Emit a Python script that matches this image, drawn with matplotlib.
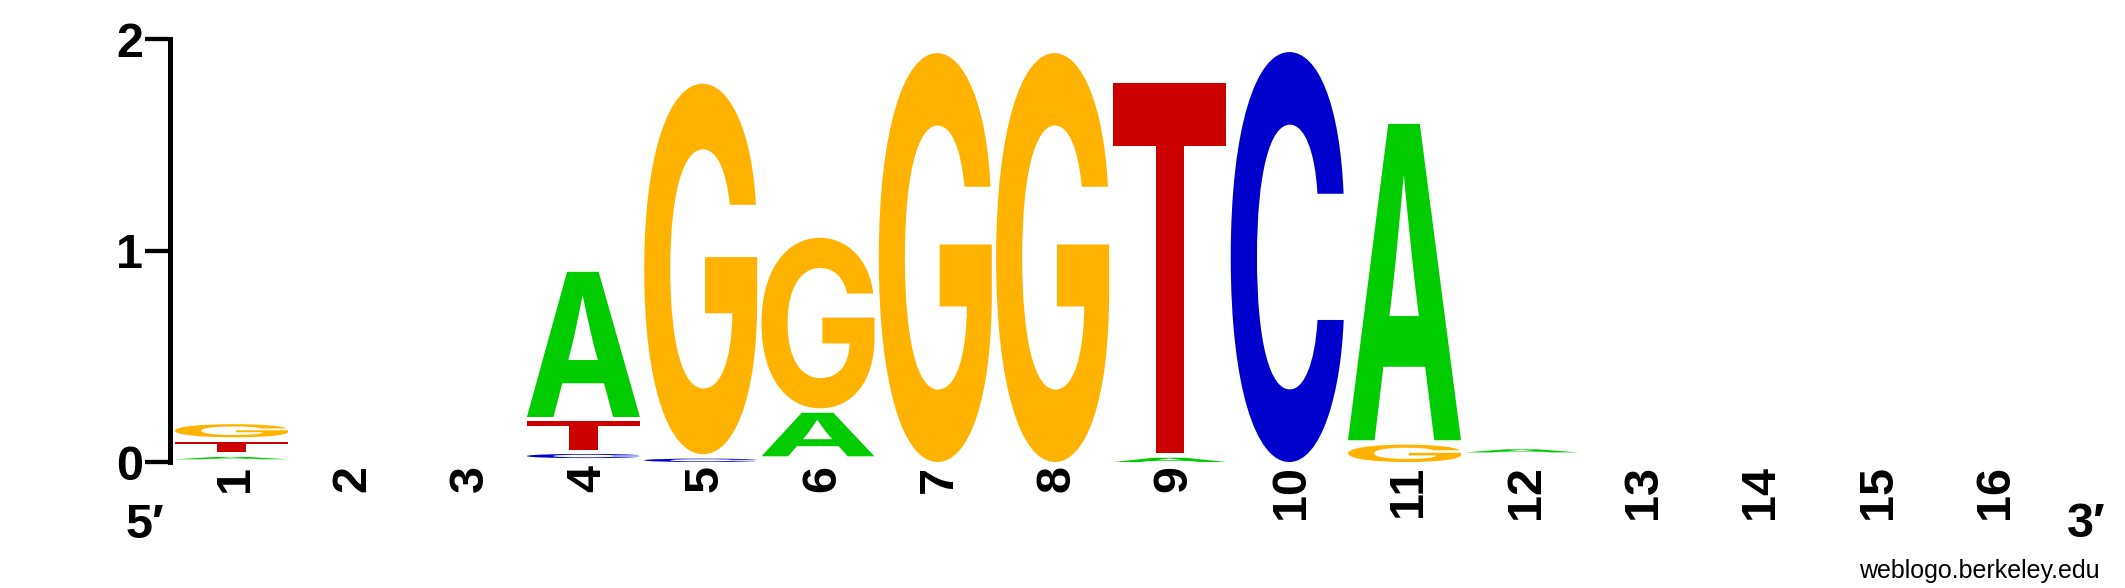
import matplotlib
matplotlib.use('Agg')
import matplotlib.pyplot as plt
from matplotlib.textpath import TextPath
from matplotlib.patches import PathPatch
from matplotlib.font_manager import FontProperties
from matplotlib.transforms import Affine2D

# ---- data (bits per letter at each position) ----
positions = list(range(1, 17))
letters = ['A', 'C', 'G', 'T']
A_vals = [0.016, 0, 0, 0.708, 0, 0.227, 0, 0, 0.020, 0, 1.518, 0.021, 0, 0, 0, 0]
C_vals = [0.008, 0, 0, 0.028, 0.016, 0.006, 0, 0, 0, 1.940, 0, 0.013, 0, 0, 0, 0]
G_vals = [0.083, 0, 0, 0.010, 1.774, 0.828, 1.935, 1.935, 0, 0, 0.082, 0.013, 0, 0, 0, 0]
T_vals = [0.072, 0, 0, 0.154, 0, 0, 0, 0, 1.775, 0, 0, 0.013, 0, 0, 0, 0]
y_ticks = [0, 1, 2]
colors = {'A': '#00CC00', 'C': '#0000CC', 'G': '#FFB300', 'T': '#CC0000'}

W, H = 2125, 588
fig = plt.figure(figsize=(W / 100, H / 100), dpi=100)
ax = fig.add_axes([170 / W, 126 / H, 1879.7 / W, 422.6 / H])
ax.set_xlim(0.476, 16.5)
ax.set_ylim(0, 2)

fp = FontProperties(family='Inter', weight='bold')
glyphs = {}
for L in letters:
    tp = TextPath((0, 0), L, size=1, prop=fp)
    glyphs[L] = (tp, tp.get_extents())

LETTER_W = 0.963
GAP = 0.021
MIN_DRAW = 0.0135

vals = {'A': A_vals, 'C': C_vals, 'G': G_vals, 'T': T_vals}
for i, pos in enumerate(positions):
    stack = sorted([(vals[L][i], L) for L in letters], key=lambda t: t[0])
    y0 = 0.0
    for h, L in stack:
        if h <= 0:
            continue
        if h >= MIN_DRAW:
            gap = min(GAP, 0.3 * h) if y0 > 0 else 0.0
            tp, ext = glyphs[L]
            hh = h - gap
            tr = (Affine2D().translate(-ext.x0, -ext.y0)
                  .scale(LETTER_W / ext.width, hh / ext.height)
                  .translate(pos - LETTER_W / 2, y0 + gap))
            path = tr.transform_path(tp)
            ax.add_patch(PathPatch(path, fc=colors[L], ec='none', lw=0,
                                   transform=ax.transData, clip_on=False))
        y0 += h

# axes styling
for s in ['top', 'right', 'bottom']:
    ax.spines[s].set_visible(False)
ax.spines['left'].set_bounds(0, 2)
ax.spines['left'].set_linewidth(3.6)
ax.set_yticks(y_ticks)
ax.set_yticklabels([str(t) for t in y_ticks], fontsize=35, fontweight='bold',
                   family='Liberation Sans')
ax.tick_params(axis='y', length=18, width=3.1, pad=1.5, direction='out')
ax.set_xticks([])

for pos in positions:
    ax.annotate(str(pos), xy=(pos, 0), xycoords='data',
                xytext=(3.2, -2.5), textcoords='offset points',
                rotation=90, ha='center', va='top', fontsize=35,
                fontweight='bold', family='Liberation Sans')

fig.text(144.5 / W, 50 / H, '5\u2032', ha='center', va='baseline', fontsize=35,
         fontweight='bold', family=['Liberation Sans', 'DejaVu Sans'])
fig.text(2086 / W, 51 / H, '3\u2032', ha='center', va='baseline', fontsize=35,
         fontweight='bold', family=['Liberation Sans', 'DejaVu Sans'])
fig.text(2100 / W, 10 / H, 'weblogo.berkeley.edu', ha='right', va='baseline',
         fontsize=18, family='Liberation Sans')

fig.savefig('out.png', dpi=100, facecolor='white')
